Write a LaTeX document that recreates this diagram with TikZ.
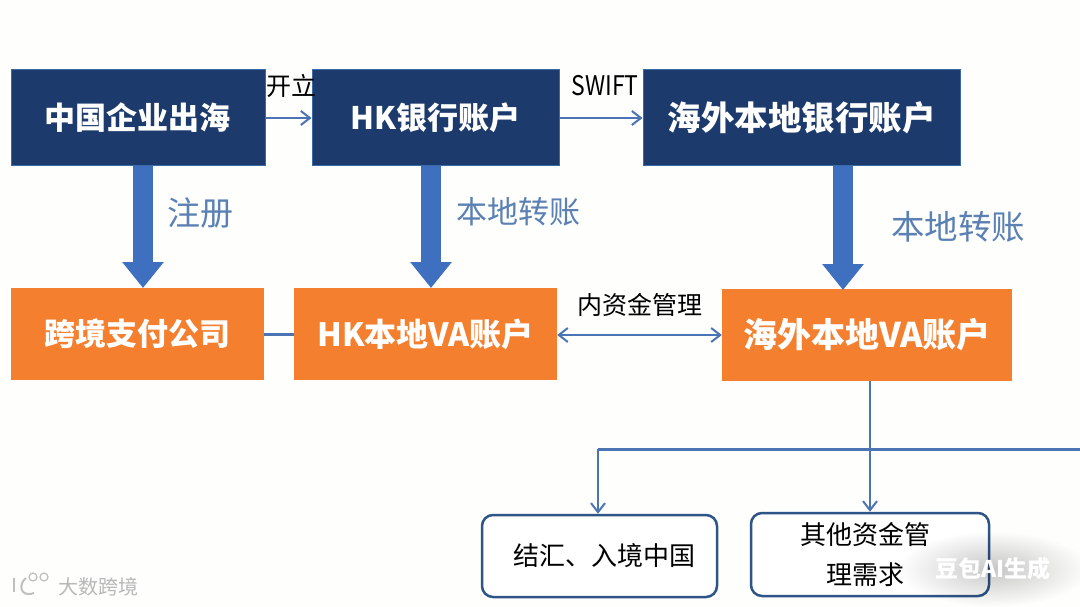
\documentclass[tikz,border=0pt]{standalone}
\usepackage{fontspec}
\setmainfont{Noto Sans CJK SC}
\usetikzlibrary{arrows.meta,fadings}
\definecolor{navybox}{HTML}{1C3A6C}
\definecolor{navyedge}{HTML}{3A6AA8}
\definecolor{orangebox}{HTML}{F47F2E}
\definecolor{linkblue}{HTML}{4A74B4}
\definecolor{fatblue}{HTML}{3F70C0}
\definecolor{labelblue}{HTML}{5A80B4}
\definecolor{roundedge}{HTML}{2F5488}
\definecolor{paper}{HTML}{FEFEFC}
\tikzfading[name=halofade,inner color=transparent!0,outer color=transparent!100]
\tikzset{
  bankbox/.style={draw=navyedge,line width=1pt,fill=navybox,text=white,inner sep=0pt,font=\fontsize{31}{36}\selectfont\bfseries},
  vabox/.style={fill=orangebox,text=white,inner sep=0pt,font=\fontsize{31}{36}\selectfont\bfseries},
  endbox/.style={draw=roundedge,line width=2.5pt,rounded corners=11pt,fill=white,align=center,inner sep=0pt,font=\fontsize{26}{40}\selectfont},
  link/.style={draw=linkblue,line width=2pt},
  linkto/.style={link,-{Straight Barb[length=9pt,width=14pt,line width=2pt]}},
  linkboth/.style={link,{Straight Barb[length=9pt,width=14pt,line width=2pt]}-{Straight Barb[length=9pt,width=14pt,line width=2pt]}},
  fatarrow/.style={draw=fatblue,line width=20pt,-{Triangle[length=26pt,width=40pt]}},
  steplabel/.style={text=labelblue,inner sep=0pt,font=\fontsize{31}{36}\selectfont},
  linklabel/.style={text=black,inner sep=0pt,font=\fontsize{25}{30}\selectfont},
  watermark/.style={text=white,inner sep=0pt}
}
\begin{document}
\begin{tikzpicture}[x=1pt,y=-1pt]
  \useasboundingbox (0,0) rectangle (1080,607);
  \fill[paper] (0,0) rectangle (1080,607);
  \node[bankbox,minimum width=254pt,minimum height=96pt] (company) at (138,118) {中国企业出海};
  \node[bankbox,minimum width=247pt,minimum height=96pt] (hkbank) at (435.5,118) {HK银行账户};
  \node[bankbox,minimum width=317pt,minimum height=96pt,font=\fontsize{33.5}{36}\selectfont\bfseries] (osbank) at (801.5,118) {海外本地银行账户};
  \node[vabox,minimum width=253pt,minimum height=92pt] (payco) at (137.5,334) {跨境支付公司};
  \node[vabox,minimum width=263pt,minimum height=92pt,font=\fontsize{32}{36}\selectfont\bfseries] (hkva) at (425.5,334) {HK本地VA账户};
  \node[vabox,minimum width=290pt,minimum height=92pt,font=\fontsize{34}{36}\selectfont\bfseries] (osva) at (867,335) {海外本地VA账户};
  \node[endbox,minimum width=235pt,minimum height=82pt] (settle) at (599.5,556) {\kern10pt结汇、入境中国};
  \node[endbox,minimum width=238pt,minimum height=83pt] (other) at (870,554.5) {其他资金管\kern10pt\\理需求\kern10pt};
  \coordinate (payin) at (143,288);
  \coordinate (hkin) at (431,288);
  \coordinate (osin) at (843,290);
  \coordinate (branch) at (870,449);
  \coordinate (turn) at (598,449);
  \coordinate (offpage) at (1080,449);
  \draw[fatarrow] (payin |- company.south) -- (payin);
  \draw[fatarrow] (hkin |- hkbank.south) -- (hkin);
  \draw[fatarrow] (osin |- osbank.south) -- (osin);
  \draw[linkto] (company.east) -- (hkbank.west);
  \draw[linkto] (hkbank.east) -- (osbank.west);
  \draw[link,line width=3pt] (payco.east) -- (hkva.west);
  \draw[linkboth] (hkva.east |- osva.west) -- (osva.west);
  \draw[linkto] (osva.south -| branch) -- (other.north -| branch);
  \draw[link,line width=3pt] (offpage) -- (turn);
  \draw[linkto] (turn) -- (turn |- settle.north);
  \node[linklabel] (open) at (291,86) {开立};
  \node[linklabel,font=\fontsize{27}{30}\selectfont] (swift) at (605,86) {\addfontfeature{FakeStretch=0.85}SWIFT};
  \node[linklabel] (manage) at (640,305) {内资金管理};
  \node[steplabel,font=\fontsize{33}{36}\selectfont] (register) at (200,213) {注册};
  \node[steplabel] (hklocal) at (518,212) {本地转账};
  \node[steplabel,font=\fontsize{33.5}{36}\selectfont] (oslocal) at (958,227) {本地转账};
  \node[watermark,text=black!28,font=\fontsize{20}{24}\selectfont] (brand) at (98,587) {大数跨境};
  \draw[black!25,line width=2pt] (14,578) -- (14,592);
  \draw[black!25,line width=2pt] (26,578) .. controls (18,584) and (20,598) .. (34,593);
  \draw[black!25,line width=1.2pt] (33,577) circle (4pt) (44,577) circle (4pt);
  \fill[black,opacity=0.22,path fading=halofade] (993,569) ellipse (95pt and 38pt);
  \node[watermark,font=\fontsize{23}{24}\selectfont\bfseries] (doubao) at (993,569) {豆包AI生成};
\end{tikzpicture}
\end{document}
